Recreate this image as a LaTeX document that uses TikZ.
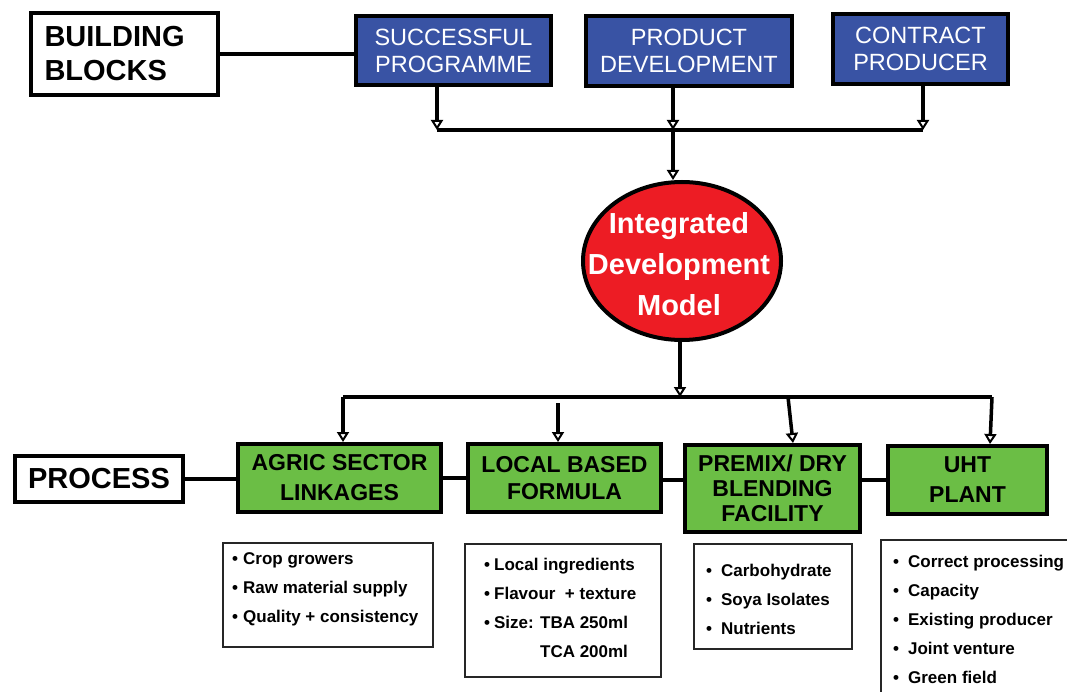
\documentclass[tikz,border=0pt]{standalone}
\usepackage{fontspec}
\setmainfont{Liberation Sans}
\usetikzlibrary{arrows.meta,shapes.geometric,calc}
\definecolor{bblue}{RGB}{57,83,164}
\definecolor{bgreen}{RGB}{107,190,69}
\definecolor{bred}{RGB}{237,28,36}
\begin{document}
\begin{tikzpicture}[x=1pt,y=-1pt,
 bluebox/.style={draw=black,line width=4pt,fill=bblue,text=white,align=center,inner sep=0pt,font=\fontsize{23.5}{27}\selectfont},
 greenbox/.style={draw=black,line width=4pt,fill=bgreen,align=center,inner sep=0pt,font=\bfseries\fontsize{23}{30}\selectfont},
 labelbox/.style={draw=black,line width=4pt,fill=white,inner sep=0pt,font=\bfseries\fontsize{29}{34}\selectfont},
 listbox/.style={draw=black!85,line width=2pt,fill=white,inner sep=0pt},
 listtext/.style={anchor=base west,inner sep=0pt,font=\bfseries\fontsize{17}{29}\selectfont},
 conn/.style={line width=3.5pt},
 arr/.style={line width=3.5pt,-{Triangle[open,length=10pt,width=12pt,line width=2pt]}},
]
\path[use as bounding box,fill=white] (0,0) rectangle (1067,692);

% top row
\node[labelbox,minimum width=187pt,minimum height=82pt,text width=160pt,inner xsep=13.5pt,align=left] (bb) at (124.5,54) {BUILDING\\BLOCKS};
\node[bluebox,minimum width=195pt,minimum height=69pt] (sp) at (453.5,50.5) {SUCCESSFUL\\PROGRAMME};
\node[bluebox,minimum width=206pt,minimum height=70pt] (pd) at (689,51) {PRODUCT\\DEVELOPMENT};
\node[bluebox,minimum width=175pt,minimum height=70pt] (cp) at (920.5,49) {CONTRACT\\PRODUCER};

% ellipse
\node[ellipse,draw=black,line width=4pt,fill=bred,inner sep=0pt,minimum width=198pt,minimum height=158pt] (idm) at (682,261) {};
\node[text=white,inner sep=0pt,align=center,font=\bfseries\fontsize{29}{41}\selectfont] (idmtext) at (679,264) {Integrated\\Development\\Model};

% bottom row
\node[labelbox,minimum width=168pt,minimum height=46pt] (proc) at (99,479) {PROCESS};
\node[greenbox,minimum width=203pt,minimum height=68pt] (ag) at (339.5,478) {AGRIC SECTOR\\LINKAGES};
\node[greenbox,minimum width=193pt,minimum height=68pt,font=\bfseries\fontsize{23}{27}\selectfont] (lb) at (564.5,478) {LOCAL BASED\\FORMULA};
\node[greenbox,minimum width=175pt,minimum height=87pt,font=\bfseries\fontsize{23}{25}\selectfont] (pm) at (772.5,488.5) {PREMIX/ DRY\\BLENDING\\FACILITY};
\node[greenbox,minimum width=159pt,minimum height=68pt] (uht) at (967.5,480) {UHT\\PLANT};

% list boxes
\node[listbox,minimum width=210pt,minimum height=104pt] (b1) at (328,595) {};
\node[listbox,minimum width=196pt,minimum height=133pt] (b2) at (563,610.5) {};
\node[listbox,minimum width=158pt,minimum height=105pt] (b3) at (773,596.5) {};
\node[listbox,minimum width=198pt,minimum height=170pt] (b4) at (980,625) {};

\node[listtext] (t1) at (232,564) {\begin{tabular}[t]{@{}l@{\hspace{5pt}}l@{}}
\textbullet & Crop growers\\
\textbullet & Raw material supply\\
\textbullet & Quality + consistency
\end{tabular}};
\node[listtext] (t2) at (484,570) {\begin{tabular}[t]{@{}l@{\hspace{4pt}}l@{}}
\textbullet & Local ingredients\\
\textbullet & Flavour~~+ texture\\
\textbullet & Size: TBA 250ml\\
 & \phantom{Size: }TCA 200ml
\end{tabular}};
\node[listtext] (t3) at (706,576) {\begin{tabular}[t]{@{}l@{\hspace{9pt}}l@{}}
\textbullet & Carbohydrate\\
\textbullet & Soya Isolates\\
\textbullet & Nutrients
\end{tabular}};
\node[listtext] (t4) at (893,567) {\begin{tabular}[t]{@{}l@{\hspace{9pt}}l@{}}
\textbullet & Correct processing\\
\textbullet & Capacity\\
\textbullet & Existing producer\\
\textbullet & Joint venture\\
\textbullet & Green field
\end{tabular}};

% top connectors
\draw[conn] (bb.east) -- (sp.west |- bb.east);
\coordinate (j1) at (437,130);
\coordinate (j2) at (673,130);
\coordinate (j3) at (923,130);
\draw[conn] (j1) -- (j3);
\draw[arr] (sp.south -| j1) -- (j1);
\draw[arr] (pd.south -| j2) -- (j2);
\draw[arr] (cp.south -| j3) -- (j3);
\draw[arr] (j2) -- (idm.north -| j2);

% bottom connectors
\coordinate (k0) at (680,397);
\coordinate (k1) at (343,397);
\coordinate (k2) at (558,403);
\coordinate (k3) at (788,397);
\coordinate (k4) at (992,397);
\coordinate (m3) at (793,443);
\coordinate (m4) at (990,444);
\draw[arr] (idm.south -| k0) -- (k0);
\draw[conn] (k1) -- (k4);
\draw[arr] (k1) -- (ag.north -| k1);
\draw[arr] (k2) -- (lb.north -| k2);
\draw[arr] (k3) -- (m3);
\draw[arr] (k4) -- (m4);

\draw[conn] (proc.east) -- (ag.west |- proc.east);
\draw[conn] (ag.east) -- (lb.west);
\draw[conn] (lb.east |- uht.west) -- (pm.west |- uht.west);
\draw[conn] (pm.east |- uht.west) -- (uht.west);
\end{tikzpicture}
\end{document}
